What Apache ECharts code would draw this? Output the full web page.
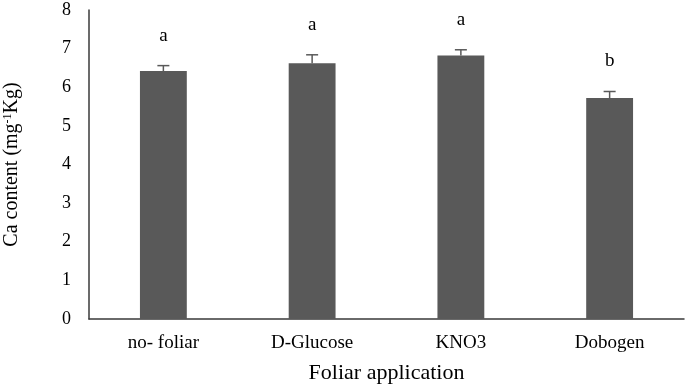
<!DOCTYPE html>
<html>
<head>
<meta charset="utf-8">
<script src="https://cdn.jsdelivr.net/npm/echarts@6/dist/echarts.min.js"></script>
<style>html,body{margin:0;padding:0;background:#fff;}#c{width:685px;height:385px;}</style>
</head>
<body>
<div id="c"></div>
<script>
var categories = ['no- foliar', 'D-Glucose', 'KNO3', 'Dobogen'];
var values = [6.42, 6.62, 6.82, 5.72];
var errors = [0.14, 0.22, 0.15, 0.17];
var letters = ['a', 'a', 'a', 'b'];
var yTicks = [0, 1, 2, 3, 4, 5, 6, 7, 8];

var font = 'Liberation Serif, Times New Roman, serif';
var chart = echarts.init(document.getElementById('c'));
var errData = values.map(function (v, i) { return [i, v, errors[i], letters[i]]; });

chart.setOption({
  animation: false,
  grid: { left: 89, right: 1, top: 10, bottom: 66, outerBoundsMode: 'none', containLabel: false },
  xAxis: {
    type: 'category',
    data: categories,
    axisLine: { lineStyle: { color: '#3a3a3a', width: 1.5 } },
    axisTick: { show: false },
    axisLabel: { color: '#000', fontFamily: font, fontSize: 19, margin: 15 },
    name: 'Foliar application',
    nameLocation: 'middle',
    nameGap: 43,
    nameTextStyle: { color: '#000', fontFamily: font, fontSize: 22 }
  },
  yAxis: {
    type: 'value',
    min: yTicks[0],
    max: yTicks[yTicks.length - 1],
    interval: 1,
    splitLine: { show: false },
    axisLine: { show: true, lineStyle: { color: '#3a3a3a', width: 1.5 } },
    axisTick: { show: false },
    axisLabel: { color: '#000', fontFamily: font, fontSize: 18, margin: 18 },
    name: '{a|Ca content (mg}{s|-1}{a|Kg)}',
    nameLocation: 'middle',
    nameGap: 67,
    nameTextStyle: {
      rich: {
        a: { color: '#000', fontFamily: font, fontSize: 20 },
        s: { color: '#000', fontFamily: font, fontSize: 12, verticalAlign: 'top', padding: [0, 0, 8, 0] }
      }
    }
  },
  series: [
    {
      type: 'bar',
      data: values,
      barWidth: '31.5%',
      itemStyle: { color: '#595959' }
    },
    {
      type: 'custom',
      data: errData,
      z: 5,
      renderItem: function (params, api) {
        var i = api.value(0), v = api.value(1), e = api.value(2);
        var top = api.coord([i, v + e]);
        var base = api.coord([i, v]);
        var hw = 6;
        return {
          type: 'group',
          children: [
            { type: 'line', shape: { x1: top[0], y1: base[1], x2: top[0], y2: top[1] }, style: { stroke: '#595959', lineWidth: 1.5 } },
            { type: 'line', shape: { x1: top[0] - hw, y1: top[1], x2: top[0] + hw, y2: top[1] }, style: { stroke: '#595959', lineWidth: 1.5 } },
            { type: 'text', x: top[0], y: top[1] - 30, style: { text: api.value(3), fill: '#000', font: '19px ' + font, align: 'center', verticalAlign: 'middle' } }
          ]
        };
      }
    }
  ]
});
</script>
</body>
</html>
